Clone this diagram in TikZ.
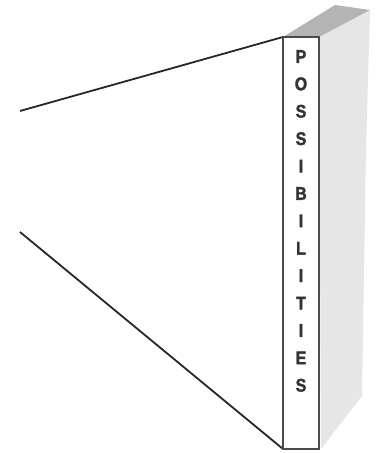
\documentclass[tikz,border=0pt]{standalone}
\usepackage{fontspec}
\setmainfont{Liberation Sans}
\newfontfamily\lettfont[FakeBold=2]{Liberation Sans Bold}
\definecolor{topgray}{HTML}{B4B4B4}
\definecolor{sidegray}{HTML}{E6E6E6}
\definecolor{edgegray}{HTML}{4A4A4A}
\begin{document}
\begin{tikzpicture}[x=1bp,y=-1bp,
  letter/.style={font=\lettfont\fontsize{16bp}{16bp}\selectfont\bfseries, text=black!80, inner sep=0pt, yscale=1.15},
  ray/.style={draw=black!85, line width=1.8bp}]
\useasboundingbox (0,0) rectangle (375,453);
% corners
\coordinate (fl) at (283,37);
\coordinate (fr) at (319,37);
\coordinate (bl) at (283,449);
\coordinate (br) at (319,449);
\coordinate (tbl) at (335,5);
\coordinate (tbr) at (370,10);
\coordinate (sm) at (366,150);
\coordinate (sb) at (362,396);
\coordinate (sbb) at (321,449);
% right face
\fill[sidegray] (fr) -- (tbr) -- (sm) -- (sb) -- (sbb) -- cycle;
% top face
\fill[topgray] (fl) -- (tbl) -- (tbr) -- (fr) -- cycle;
% rays
\coordinate (a1) at (20,111);
\coordinate (a2) at (20,232);
\draw[ray] (a1) -- (fl);
\draw[ray] (a2) -- (bl);
% front face
\draw[edgegray, line width=2bp, fill=white] (fl) rectangle (br);
% letters
\foreach \ch [count=\i from 0] in {P,O,S,S,I,B,I,L,I,T,I,E,S} {
  \node[letter] (l\i) at (301,{56.5+27.4*\i}) {\ch};
}
\end{tikzpicture}
\end{document}
